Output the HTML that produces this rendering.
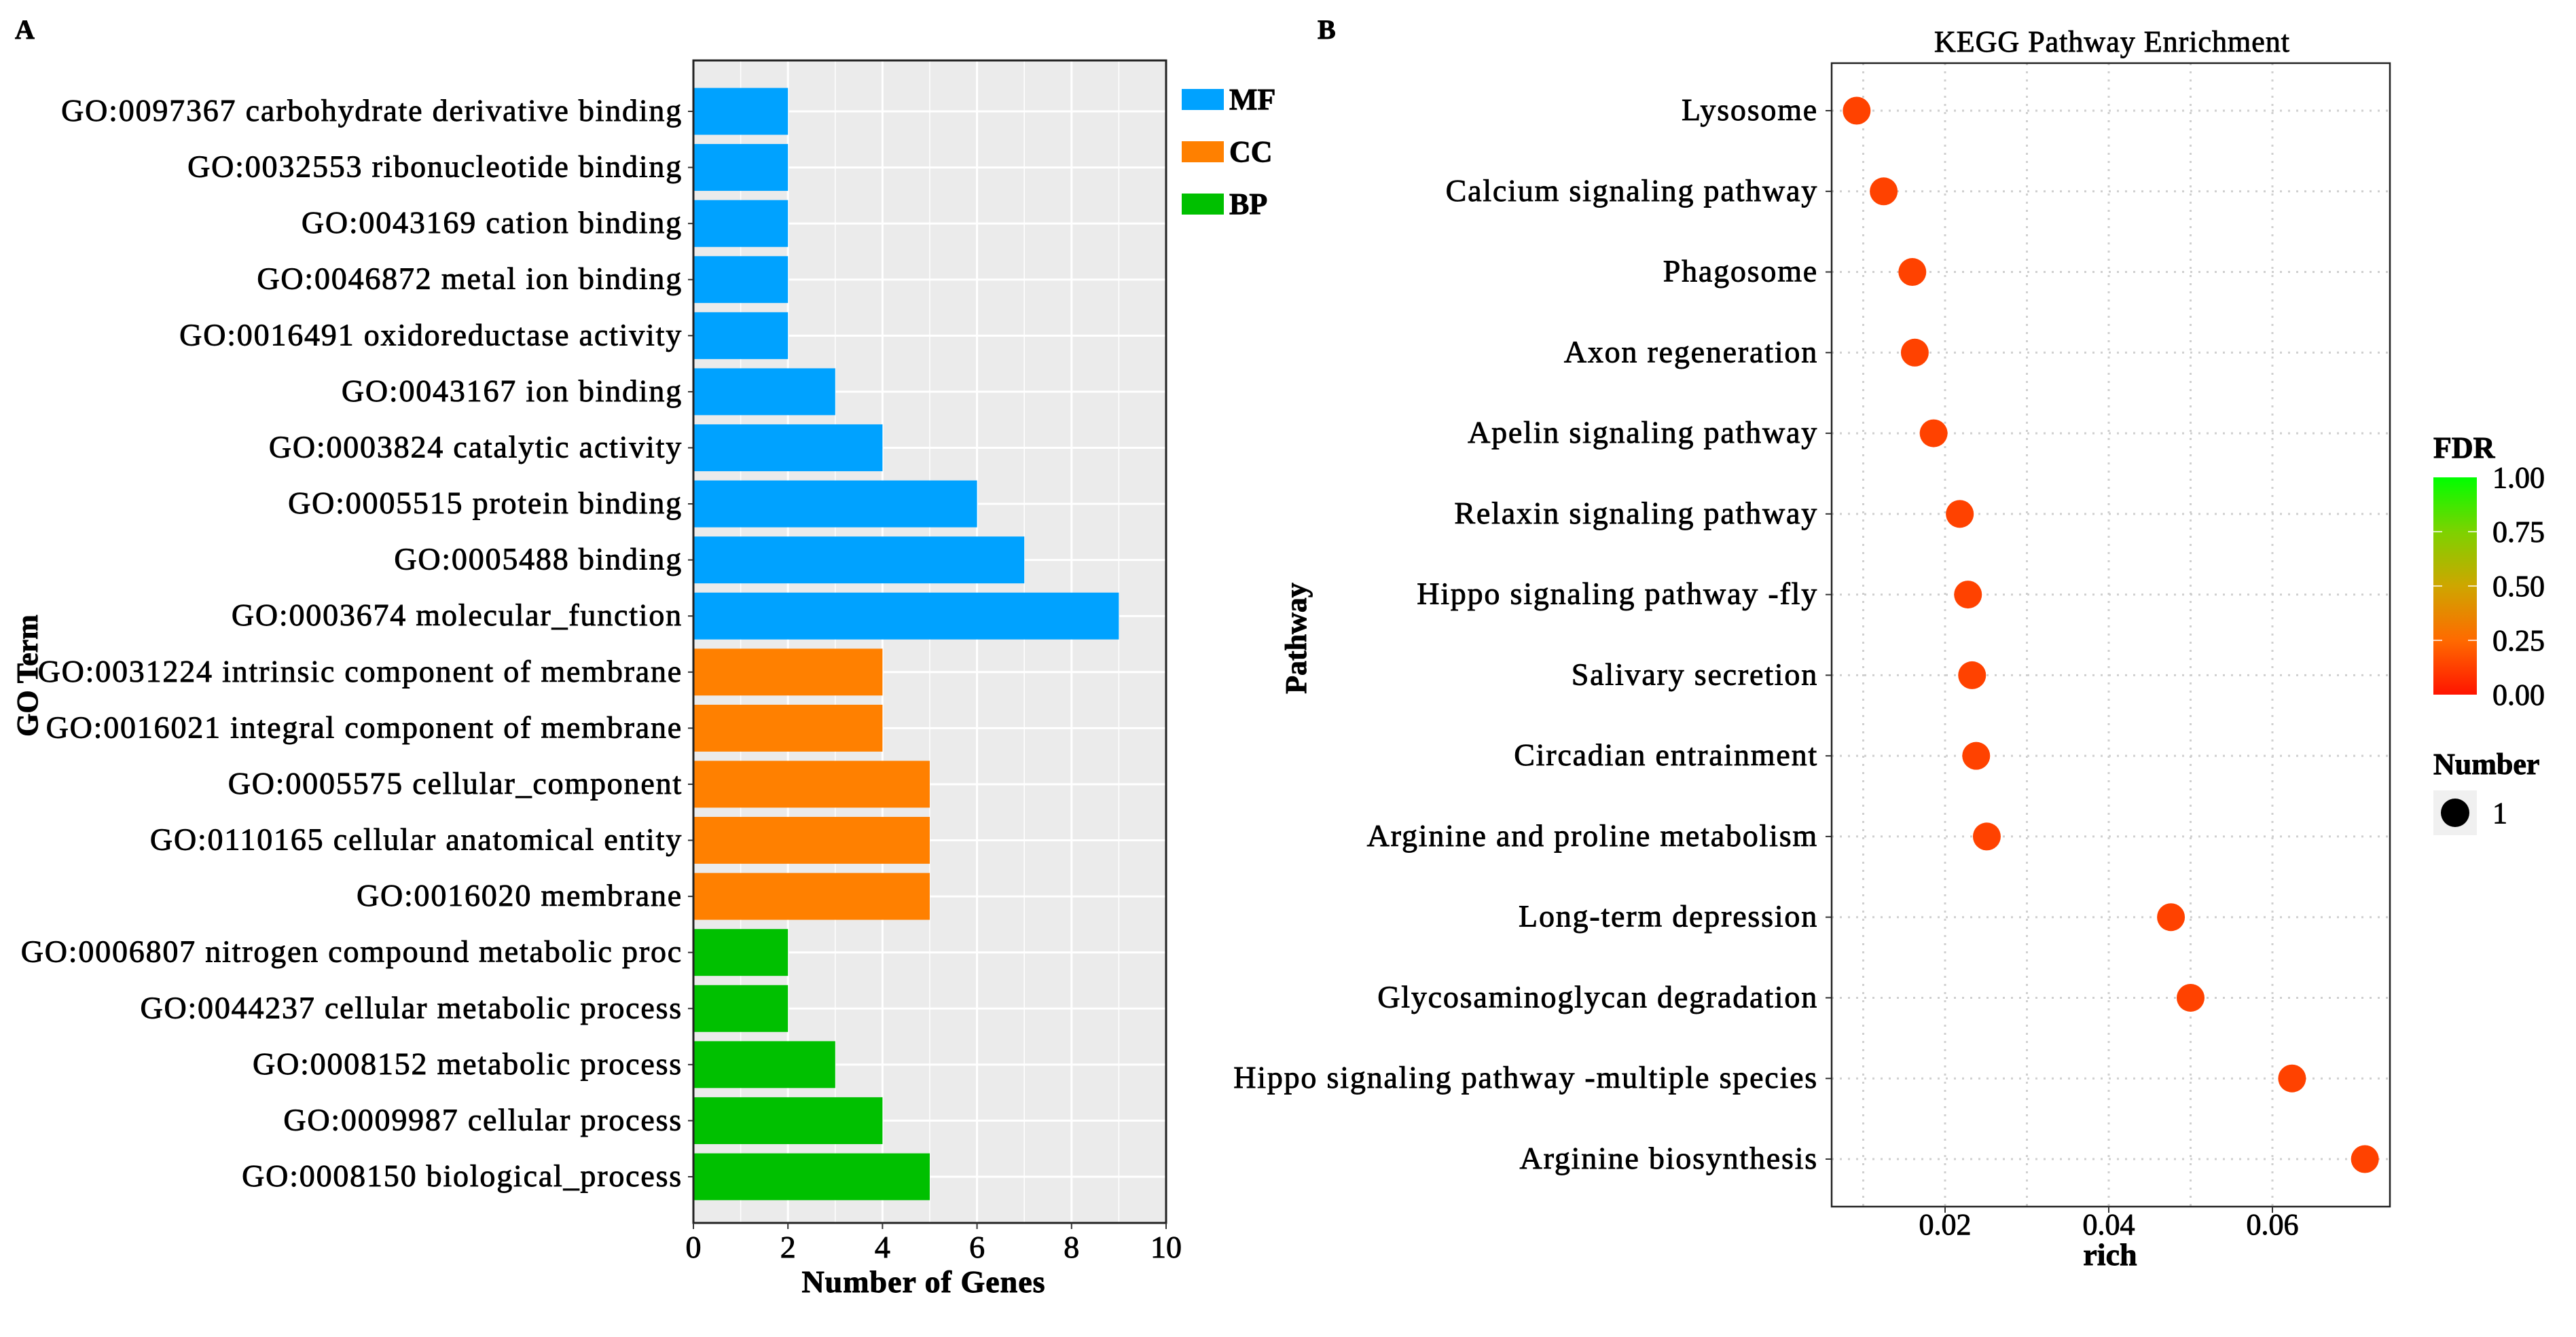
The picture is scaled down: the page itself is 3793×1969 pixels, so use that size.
<!DOCTYPE html>
<html><head><meta charset="utf-8"><style>
html,body{margin:0;padding:0;background:#fff;}
svg text{font-family:"Liberation Serif",serif;fill:#000;stroke:#000;stroke-width:0.9px;}
</style></head><body>
<svg id="fig" width="3793" height="1964" xmlns="http://www.w3.org/2000/svg">
<text x="22" y="57" font-size="40" font-weight="bold">A</text>
<text x="1940" y="57" font-size="40" font-weight="bold">B</text>
<g id="A"></g>
<g id="B"></g>
</svg>
<script>
const goTerms=["GO:0097367 carbohydrate derivative binding","GO:0032553 ribonucleotide binding","GO:0043169 cation binding","GO:0046872 metal ion binding","GO:0016491 oxidoreductase activity","GO:0043167 ion binding","GO:0003824 catalytic activity","GO:0005515 protein binding","GO:0005488 binding","GO:0003674 molecular_function","GO:0031224 intrinsic component of membrane","GO:0016021 integral component of membrane","GO:0005575 cellular_component","GO:0110165 cellular anatomical entity","GO:0016020 membrane","GO:0006807 nitrogen compound metabolic proc","GO:0044237 cellular metabolic process","GO:0008152 metabolic process","GO:0009987 cellular process","GO:0008150 biological_process"];
const goCounts=[2,2,2,2,2,3,4,6,7,9,4,4,5,5,5,2,2,3,4,5];
const goCategory=["MF","MF","MF","MF","MF","MF","MF","MF","MF","MF","CC","CC","CC","CC","CC","BP","BP","BP","BP","BP"];
const goXTicks=[0,2,4,6,8,10];
const keggPathways=["Lysosome","Calcium signaling pathway","Phagosome","Axon regeneration","Apelin signaling pathway","Relaxin signaling pathway","Hippo signaling pathway -fly","Salivary secretion","Circadian entrainment","Arginine and proline metabolism","Long-term depression","Glycosaminoglycan degradation","Hippo signaling pathway -multiple species","Arginine biosynthesis"];
const keggRich=[0.0092,0.0125,0.016,0.0163,0.0186,0.0218,0.0228,0.0233,0.0238,0.0251,0.0476,0.05,0.0624,0.0713];
const keggFdr=[0.05,0.05,0.05,0.05,0.05,0.05,0.05,0.05,0.05,0.05,0.05,0.05,0.05,0.05];
const keggXTicks=[0.02,0.04,0.06];
const fdrTicks=[0,0.25,0.5,0.75,1];

const NS="http://www.w3.org/2000/svg";
function mk(parent,tag,attrs,txt){const e=document.createElementNS(NS,tag);for(const k in attrs)e.setAttribute(k,attrs[k]);if(txt!==undefined)e.textContent=txt;parent.appendChild(e);return e;}
const catColor={MF:"#00a2ff",CC:"#ff8000",BP:"#00c000"};

// Panel A
const A=document.getElementById('A');
const ax={l:1021,r:1717,t:89,b:1801,min:0,max:10};
const xA=v=>ax.l+(v-ax.min)/(ax.max-ax.min)*(ax.r-ax.l);
const yA=i=>164+i*((1733-164)/(goTerms.length-1));
let bg=mk(A,'rect',{x:ax.l,y:ax.t,width:ax.r-ax.l,height:ax.b-ax.t,fill:'#ebebeb'});

for(let v=1;v<10;v+=2){let g=mk(A,'line',{x1:xA(v),x2:xA(v),y1:ax.t,y2:ax.b,stroke:'#fff','stroke-width':1.5});}
goXTicks.forEach(v=>{let g=mk(A,'line',{x1:xA(v),x2:xA(v),y1:ax.t,y2:ax.b,stroke:'#fff','stroke-width':3});});
goTerms.forEach((t,i)=>{let g=mk(A,'line',{x1:ax.l,x2:ax.r,y1:yA(i),y2:yA(i),stroke:'#fff','stroke-width':3});});
goTerms.forEach((t,i)=>{
 let b=mk(A,'rect',{x:xA(0),y:yA(i)-34.5,width:xA(goCounts[i])-xA(0),height:69,fill:catColor[goCategory[i]]});
 
 let tk=mk(A,'line',{x1:ax.l-8,x2:ax.l,y1:yA(i),y2:yA(i),stroke:'#333','stroke-width':2});
 
 let lb=mk(A,'text',{x:ax.l-16,y:yA(i)+14,'font-size':46,'text-anchor':'end','letter-spacing':'1.8'},t);
 
});
let brd=mk(A,'rect',{x:ax.l,y:ax.t,width:ax.r-ax.l,height:ax.b-ax.t,fill:'none',stroke:'#222','stroke-width':3});

goXTicks.forEach(v=>{
 let tk=mk(A,'line',{x1:xA(v),x2:xA(v),y1:ax.b,y2:ax.b+9,stroke:'#333','stroke-width':2});
 
 let l=mk(A,'text',{x:xA(v),y:1852,'font-size':46,'text-anchor':'middle'},String(v));
 
});
let xt=mk(A,'text',{x:1360,y:1903,'font-size':46,'text-anchor':'middle','font-weight':'bold','letter-spacing':'1'},'Number of Genes');

let yt=mk(A,'text',{x:0,y:0,'font-size':44,'text-anchor':'middle','font-weight':'bold',transform:'translate(55,995) rotate(-90)'},'GO Term');

[["MF",131],["CC",208],["BP",285]].forEach(([c,y])=>{
 let r=mk(A,'rect',{x:1740,y:y,width:62,height:31,fill:catColor[c]});
 
 let l=mk(A,'text',{x:1810,y:y+30,'font-size':44,'font-weight':'bold'},c);
 
});

// Panel B
const B=document.getElementById('B');
const bx={l:2697,r:3519,t:93,b:1777};
const xB=v=>2623+v*(241/0.02);
const yB=i=>163+i*((1707-163)/(keggPathways.length-1));
mk(B,'rect',{x:bx.l,y:bx.t,width:bx.r-bx.l,height:bx.b-bx.t,fill:'#fff'});
[0.01,0.03,0.05].concat(keggXTicks).forEach(v=>{let g=mk(B,'line',{x1:xB(v),x2:xB(v),y1:bx.t,y2:bx.b,stroke:'#cfcfcf','stroke-width':3,'stroke-dasharray':'3 9'});});
keggPathways.forEach((p,i)=>{
 let g=mk(B,'line',{x1:bx.l,x2:bx.r,y1:yB(i),y2:yB(i),stroke:'#cfcfcf','stroke-width':3,'stroke-dasharray':'3 9'});
 
 let tk=mk(B,'line',{x1:bx.l-9,x2:bx.l,y1:yB(i),y2:yB(i),stroke:'#333','stroke-width':2});
 
 let lb=mk(B,'text',{x:bx.l-20,y:yB(i)+14,'font-size':46,'text-anchor':'end','letter-spacing':'1.8'},p);
 
});
function fdrColor(f){const t=Math.max(0,Math.min(1,f));if(t<0.35){const k=t/0.35;return `rgb(255,${Math.round(20+k*120)},0)`;}if(t<0.75){const k=(t-0.35)/0.4;return `rgb(${Math.round(255-k*130)},${Math.round(140+k*70)},0)`;}const k=(t-0.75)/0.25;return `rgb(${Math.round(125-k*125)},${Math.round(210+k*45)},0)`;}
keggPathways.forEach((p,i)=>{
 let c=mk(B,'circle',{cx:xB(keggRich[i]),cy:yB(i),r:20.5,fill:'#ff4200'});
 
});
let bb=mk(B,'rect',{x:bx.l,y:bx.t,width:bx.r-bx.l,height:bx.b-bx.t,fill:'none',stroke:'#222','stroke-width':2.5});

keggXTicks.forEach(v=>{
 let tk=mk(B,'line',{x1:xB(v),x2:xB(v),y1:bx.b,y2:bx.b+9,stroke:'#333','stroke-width':2});
 
 let l=mk(B,'text',{x:xB(v),y:1818,'font-size':44,'text-anchor':'middle'},v.toFixed(2));
 
});
let bxt=mk(B,'text',{x:3107,y:1863,'font-size':46,'text-anchor':'middle','font-weight':'bold'},'rich');

let byt=mk(B,'text',{x:0,y:0,'font-size':44,'text-anchor':'middle','font-weight':'bold',transform:'translate(1923,940) rotate(-90)'},'Pathway');

let tt=mk(B,'text',{x:3110,y:76,'font-size':44,'text-anchor':'middle','letter-spacing':'1'},'KEGG Pathway Enrichment');

// legend
const defs=mk(B,'defs',{});
const lg=mk(defs,'linearGradient',{id:'fdrg',x1:0,y1:1,x2:0,y2:0});
[0,0.25,0.5,0.75,0.85,1].forEach(s=>mk(lg,'stop',{offset:s,'stop-color':fdrColor(s)}));
let ft=mk(B,'text',{x:3583,y:674,'font-size':44,'font-weight':'bold'},'FDR');

const cbT=703,cbB=1023;
let cb=mk(B,'rect',{x:3583,y:cbT,width:64,height:cbB-cbT,fill:'url(#fdrg)'});

fdrTicks.forEach(v=>{
 const y=cbB-v*(cbB-cbT);
 if(v>0&&v<1){mk(B,'line',{x1:3583,x2:3596,y1:y,y2:y,stroke:'#fff','stroke-width':1.5});mk(B,'line',{x1:3634,x2:3647,y1:y,y2:y,stroke:'#fff','stroke-width':1.5});}
 let l=mk(B,'text',{x:3670,y:y+15,'font-size':44},v.toFixed(2));
 
});
let nt=mk(B,'text',{x:3583,y:1140,'font-size':44,'font-weight':'bold'},'Number');

let kb=mk(B,'rect',{x:3583,y:1164,width:64,height:66,fill:'#f0f0f0'});

let kd=mk(B,'circle',{cx:3615,cy:1197,r:21,fill:'#000'});

let kl=mk(B,'text',{x:3670,y:1212,'font-size':44},'1');

</script>
</body></html>
